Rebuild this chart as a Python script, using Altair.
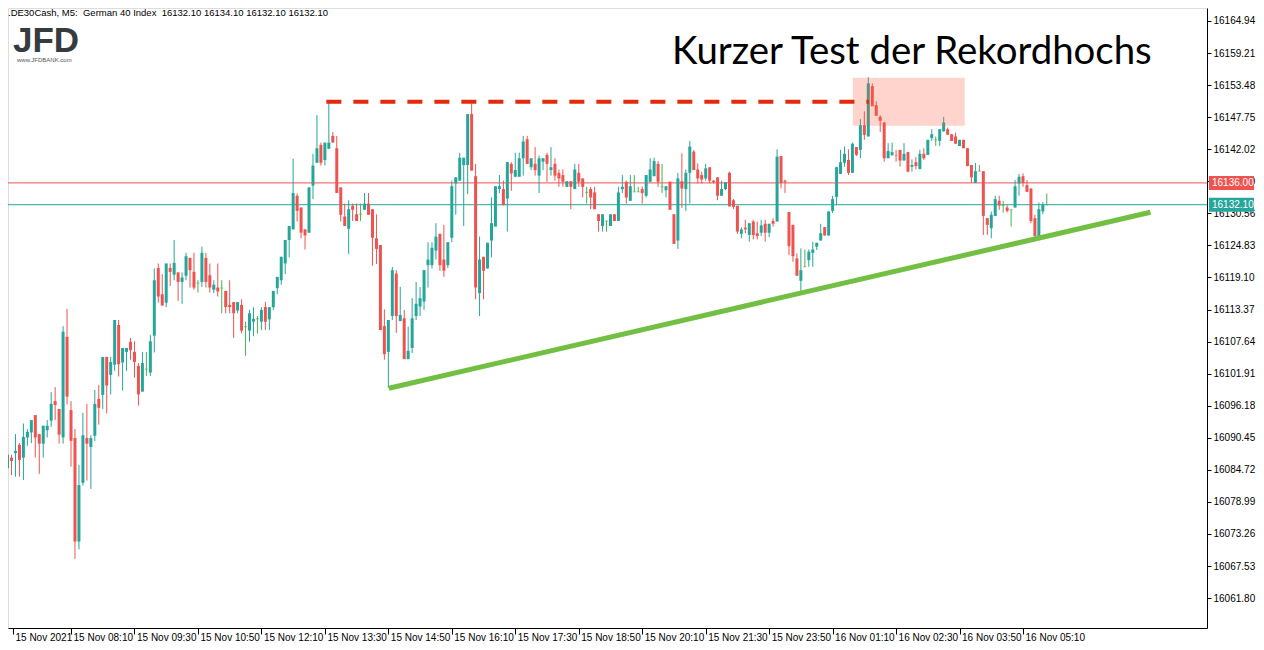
import altair as alt
import pandas as pd

# ---------------- data ----------------
opens = [16085.0, 16086.9, 16087.7, 16089.2, 16086.9, 16090.5, 16091.4, 16094.5, 16091.1, 16089.4,
         16091.8, 16093.5, 16097.0, 16095.6, 16090.5, 16108.5, 16095.4, 16090.4, 16071.9, 16082.4,
         16090.4, 16088.8, 16090.8, 16097.4, 16098.1, 16104.9, 16101.7, 16103.5, 16110.6, 16103.9,
         16105.8, 16107.6, 16105.8, 16103.3, 16098.7, 16102.7, 16102.1, 16108.7, 16120.8, 16116.1,
         16114.6, 16120.8, 16119.6, 16120.0, 16118.3, 16119.4, 16122.6, 16120.1, 16118.1, 16118.3,
         16122.6, 16119.5, 16116.9, 16117.3, 16117.2, 16116.7, 16114.2, 16114.7, 16113.2, 16114.2,
         16110.3, 16109.6, 16111.2, 16111.7, 16111.2, 16113.8, 16111.6, 16113.8, 16117.2, 16118.6,
         16121.6, 16125.8, 16127.7, 16133.7, 16131.6, 16127.7, 16127.1, 16135.5, 16139.6, 16142.8,
         16140.1, 16142.1, 16144.4, 16142.2, 16135.2, 16130.0, 16127.8, 16131.9, 16130.4, 16130.4,
         16131.2, 16132.3, 16131.3, 16126.1, 16124.9, 16110.4, 16105.8, 16112.2, 16119.8, 16111.3,
         16111.8, 16104.5, 16106.5, 16112.2, 16113.9, 16114.8, 16121.3, 16121.3, 16123.9, 16126.9,
         16122.3, 16121.3, 16126.2, 16135.9, 16136.4, 16139.2, 16139.2, 16148.3, 16137.2, 16116.3,
         16122.8, 16120.7, 16125.7, 16128.2, 16134.9, 16134.9, 16133.2, 16139.4, 16137.1, 16137.1,
         16140.4, 16143.8, 16138.8, 16139.4, 16137.3, 16139.8, 16141.0, 16138.3, 16139.4, 16137.8,
         16137.4, 16135.3, 16136.3, 16134.9, 16137.8, 16136.8, 16134.3, 16134.9, 16134.3, 16130.4,
         16128.3, 16129.2, 16128.3, 16130.4, 16129.2, 16134.9, 16136.2, 16132.8, 16134.4, 16134.4,
         16134.9, 16133.7, 16136.2, 16137.2, 16139.4, 16135.3, 16134.7, 16136.2, 16130.4, 16125.7,
         16136.3, 16134.9, 16137.8, 16141.6, 16138.4, 16137.4, 16136.8, 16138.8, 16136.4, 16137.0,
         16133.7, 16134.9, 16137.8, 16132.9, 16131.9, 16126.9, 16128.0, 16126.7, 16129.1, 16127.0,
         16127.1, 16128.7, 16127.1, 16129.2, 16129.1, 16140.8, 16136.4, 16130.8, 16128.5, 16122.5,
         16118.5, 16121.0, 16122.2, 16123.5, 16124.6, 16125.7, 16128.1, 16126.6, 16131.0, 16133.5,
         16137.6, 16139.6, 16140.1, 16137.8, 16142.4, 16141.9, 16146.3, 16144.3, 16153.3, 16149.9,
         16147.8, 16146.8, 16140.4, 16141.0, 16141.0, 16141.9, 16140.0, 16141.5, 16138.9, 16139.7,
         16138.5, 16141.2, 16141.0, 16144.0, 16143.7, 16143.5, 16145.2, 16145.6, 16144.7, 16144.3,
         16142.6, 16143.7, 16142.2, 16139.2, 16136.0, 16138.1, 16138.1, 16129.7, 16127.9, 16130.1,
         16132.8, 16132.0, 16131.6, 16131.2, 16131.6, 16135.9, 16137.2, 16135.6, 16135.0, 16129.7,
         16126.5, 16130.9, 16132.1]
highs = [16087.7, 16087.4, 16091.1, 16089.5, 16093.0, 16092.0, 16093.6, 16094.5, 16091.1, 16092.6,
         16093.6, 16098.6, 16099.5, 16095.6, 16110.4, 16113.5, 16097.0, 16092.0, 16085.6, 16094.9,
         16096.5, 16090.9, 16099.0, 16099.9, 16104.9, 16104.9, 16104.9, 16111.5, 16111.5, 16106.5,
         16106.5, 16108.3, 16107.7, 16103.8, 16105.8, 16105.8, 16108.8, 16120.7, 16121.6, 16119.7,
         16121.6, 16121.6, 16125.8, 16120.0, 16120.0, 16123.5, 16122.6, 16123.5, 16118.6, 16124.6,
         16123.5, 16121.6, 16118.6, 16121.6, 16118.6, 16116.7, 16118.6, 16114.7, 16114.7, 16115.2,
         16111.2, 16113.3, 16113.8, 16112.2, 16113.8, 16114.7, 16113.8, 16116.7, 16119.2, 16122.8,
         16125.8, 16128.3, 16140.3, 16134.1, 16131.6, 16127.7, 16135.2, 16141.2, 16148.1, 16143.2,
         16143.2, 16150.8, 16145.1, 16144.4, 16135.2, 16132.3, 16132.9, 16132.3, 16132.3, 16132.3,
         16134.2, 16134.2, 16131.3, 16130.4, 16124.9, 16113.4, 16111.5, 16121.0, 16120.4, 16117.4,
         16113.3, 16110.3, 16115.4, 16118.3, 16117.4, 16120.4, 16125.4, 16125.4, 16128.8, 16126.9,
         16128.5, 16125.4, 16136.4, 16137.0, 16141.4, 16140.5, 16148.3, 16150.2, 16139.4, 16126.4,
         16122.8, 16125.3, 16133.4, 16135.4, 16137.4, 16136.4, 16139.7, 16139.7, 16141.4, 16141.4,
         16144.4, 16144.4, 16140.4, 16142.4, 16140.9, 16140.4, 16141.4, 16142.4, 16140.4, 16138.4,
         16138.4, 16136.3, 16136.3, 16139.4, 16139.4, 16136.8, 16135.3, 16135.3, 16135.3, 16130.4,
         16130.4, 16129.2, 16130.4, 16130.4, 16135.3, 16137.4, 16136.4, 16137.4, 16137.4, 16135.3,
         16135.4, 16137.4, 16140.4, 16140.5, 16139.9, 16139.4, 16135.4, 16136.3, 16130.4, 16137.8,
         16141.3, 16138.4, 16143.5, 16141.9, 16139.5, 16138.0, 16139.4, 16138.8, 16136.5, 16137.0,
         16136.4, 16136.1, 16138.0, 16133.1, 16131.9, 16128.1, 16129.4, 16128.8, 16129.4, 16129.1,
         16129.4, 16129.4, 16128.7, 16129.7, 16142.0, 16140.8, 16136.6, 16130.8, 16128.5, 16123.4,
         16124.3, 16124.1, 16124.1, 16125.5, 16125.3, 16128.7, 16128.1, 16130.9, 16133.7, 16138.9,
         16141.9, 16142.5, 16142.0, 16143.2, 16142.4, 16147.4, 16148.8, 16154.9, 16153.8, 16150.6,
         16148.1, 16146.8, 16143.1, 16143.2, 16141.9, 16141.9, 16143.1, 16141.5, 16140.2, 16140.6,
         16141.9, 16142.2, 16143.7, 16145.6, 16144.3, 16145.6, 16147.8, 16145.9, 16144.7, 16145.0,
         16143.7, 16143.7, 16142.2, 16139.2, 16139.6, 16139.2, 16138.1, 16129.7, 16130.9, 16133.7,
         16133.7, 16132.8, 16132.0, 16131.2, 16136.5, 16137.6, 16137.7, 16136.5, 16135.0, 16130.3,
         16132.5, 16132.6, 16134.1]
lows = [16084.7, 16083.8, 16083.5, 16083.5, 16082.9, 16089.0, 16089.5, 16086.9, 16084.0, 16086.9,
        16090.5, 16092.4, 16093.6, 16089.4, 16089.4, 16096.4, 16085.3, 16068.8, 16070.5, 16081.9,
        16082.8, 16081.3, 16089.9, 16092.8, 16095.6, 16094.8, 16098.2, 16102.4, 16101.4, 16098.9,
        16102.4, 16104.4, 16101.2, 16096.2, 16098.7, 16101.5, 16101.5, 16105.7, 16114.6, 16114.0,
        16113.8, 16117.6, 16118.6, 16114.9, 16114.4, 16118.6, 16117.3, 16116.9, 16116.4, 16117.4,
        16117.3, 16116.4, 16116.3, 16115.7, 16112.7, 16112.7, 16112.7, 16108.3, 16112.7, 16109.1,
        16105.1, 16107.6, 16108.6, 16109.1, 16109.7, 16109.7, 16109.7, 16113.3, 16116.1, 16117.8,
        16119.7, 16122.7, 16127.7, 16129.1, 16126.1, 16124.1, 16127.1, 16133.1, 16139.6, 16139.1,
        16139.1, 16142.1, 16143.2, 16134.2, 16129.1, 16128.3, 16123.3, 16129.2, 16129.2, 16129.2,
        16131.2, 16130.3, 16121.2, 16121.5, 16109.7, 16104.4, 16099.4, 16111.5, 16109.2, 16111.3,
        16104.5, 16104.5, 16105.6, 16111.5, 16112.2, 16113.3, 16117.3, 16120.7, 16122.3, 16120.3,
        16119.2, 16120.8, 16125.4, 16130.3, 16136.4, 16128.3, 16134.0, 16138.2, 16115.2, 16112.2,
        16115.2, 16120.7, 16122.7, 16128.2, 16134.2, 16132.0, 16127.3, 16134.6, 16137.1, 16137.1,
        16137.3, 16139.4, 16138.3, 16137.3, 16134.2, 16138.3, 16136.2, 16137.3, 16136.4, 16135.3,
        16135.3, 16135.3, 16131.3, 16134.9, 16135.3, 16133.4, 16132.3, 16131.3, 16131.3, 16127.3,
        16127.3, 16127.3, 16128.3, 16129.2, 16129.2, 16134.2, 16132.3, 16132.8, 16134.4, 16134.4,
        16132.3, 16133.4, 16136.2, 16137.2, 16135.3, 16134.2, 16133.4, 16131.2, 16125.1, 16124.2,
        16131.5, 16131.0, 16132.3, 16138.3, 16135.9, 16135.9, 16136.4, 16135.9, 16135.9, 16132.9,
        16133.7, 16134.7, 16131.8, 16131.3, 16126.9, 16126.1, 16127.0, 16125.5, 16125.9, 16125.9,
        16126.5, 16125.5, 16126.3, 16128.2, 16129.1, 16135.0, 16134.2, 16123.1, 16121.9, 16119.4,
        16116.6, 16121.0, 16121.0, 16121.0, 16124.0, 16125.7, 16126.6, 16126.6, 16130.6, 16132.0,
        16137.6, 16138.9, 16137.4, 16137.8, 16140.8, 16140.4, 16143.7, 16144.3, 16149.7, 16148.0,
        16145.1, 16139.8, 16140.4, 16140.8, 16139.8, 16138.9, 16140.0, 16138.0, 16138.0, 16138.4,
        16138.4, 16140.1, 16141.0, 16143.5, 16142.6, 16142.6, 16145.2, 16144.6, 16143.5, 16143.0,
        16142.6, 16142.2, 16139.0, 16136.0, 16136.0, 16138.1, 16126.7, 16126.7, 16126.1, 16130.1,
        16131.2, 16130.7, 16130.7, 16128.2, 16131.6, 16133.7, 16135.3, 16134.4, 16128.8, 16126.1,
        16126.1, 16130.4, 16132.1]
closes = [16087.4, 16086.3, 16088.1, 16086.5, 16090.6, 16091.5, 16093.6, 16090.5, 16089.4, 16092.6,
          16092.6, 16096.5, 16096.3, 16091.0, 16109.4, 16097.8, 16089.9, 16071.9, 16082.0, 16090.9,
          16089.4, 16090.4, 16096.5, 16095.8, 16104.9, 16099.8, 16104.0, 16111.5, 16103.6, 16106.5,
          16106.5, 16106.1, 16104.0, 16098.2, 16103.8, 16102.7, 16107.7, 16118.6, 16115.7, 16114.1,
          16121.6, 16120.1, 16121.7, 16118.3, 16119.1, 16122.9, 16120.4, 16117.3, 16118.1, 16123.5,
          16118.3, 16117.3, 16117.8, 16116.6, 16117.2, 16113.8, 16113.8, 16112.7, 16114.7, 16109.6,
          16110.3, 16112.7, 16111.7, 16111.7, 16113.3, 16111.2, 16113.8, 16116.7, 16119.2, 16122.8,
          16125.8, 16128.3, 16134.2, 16131.0, 16127.1, 16126.6, 16135.2, 16139.1, 16142.2, 16139.6,
          16143.2, 16143.2, 16143.2, 16134.2, 16130.3, 16128.3, 16131.3, 16131.2, 16129.2, 16130.4,
          16132.3, 16130.3, 16126.2, 16124.2, 16109.7, 16105.4, 16111.5, 16120.4, 16112.2, 16112.4,
          16104.5, 16106.0, 16111.8, 16114.4, 16115.4, 16120.4, 16122.3, 16124.4, 16126.4, 16121.3,
          16120.3, 16125.4, 16135.4, 16137.0, 16140.5, 16140.5, 16148.3, 16138.2, 16117.3, 16122.3,
          16120.3, 16125.3, 16128.8, 16135.4, 16135.4, 16132.0, 16139.7, 16137.7, 16138.3, 16140.4,
          16143.4, 16139.4, 16140.4, 16138.3, 16140.4, 16140.4, 16139.4, 16138.8, 16137.3, 16136.8,
          16136.2, 16136.3, 16135.3, 16138.4, 16136.2, 16135.3, 16134.3, 16133.4, 16131.3, 16129.2,
          16130.4, 16129.2, 16130.4, 16129.2, 16134.3, 16135.3, 16133.4, 16135.4, 16134.4, 16134.4,
          16134.2, 16137.4, 16138.4, 16139.9, 16136.2, 16135.3, 16135.4, 16131.2, 16125.1, 16136.8,
          16135.0, 16137.8, 16142.5, 16138.3, 16136.8, 16136.6, 16138.6, 16136.4, 16136.1, 16133.7,
          16134.9, 16136.1, 16131.8, 16131.7, 16127.3, 16127.7, 16127.7, 16128.8, 16126.7, 16126.5,
          16128.4, 16127.1, 16128.7, 16128.7, 16140.7, 16136.0, 16136.2, 16124.7, 16122.9, 16119.4,
          16120.4, 16121.0, 16123.7, 16124.1, 16125.3, 16127.0, 16126.6, 16130.9, 16133.1, 16138.8,
          16139.7, 16141.2, 16137.8, 16143.0, 16141.0, 16146.3, 16144.6, 16153.8, 16149.7, 16148.0,
          16147.1, 16140.4, 16141.7, 16141.5, 16140.9, 16140.0, 16141.2, 16138.0, 16139.2, 16139.0,
          16141.2, 16140.4, 16143.7, 16144.7, 16143.7, 16145.6, 16146.8, 16144.6, 16143.5, 16143.0,
          16143.7, 16142.2, 16139.0, 16137.0, 16138.1, 16138.1, 16130.1, 16128.5, 16130.3, 16133.1,
          16132.0, 16132.0, 16131.0, 16131.2, 16135.4, 16137.1, 16136.0, 16134.4, 16129.2, 16126.5,
          16131.3, 16132.1, 16132.1]

x_tick_idx = [1.375, 16, 32, 48, 64, 80, 96, 112, 128, 144, 160, 176, 192, 208, 224, 240, 256]
x_tick_labels = ["15 Nov 2021", "15 Nov 08:10", "15 Nov 09:30", "15 Nov 10:50", "15 Nov 12:10",
                 "15 Nov 13:30", "15 Nov 14:50", "15 Nov 16:10", "15 Nov 17:30", "15 Nov 18:50",
                 "15 Nov 20:10", "15 Nov 21:30", "15 Nov 23:50", "16 Nov 01:10", "16 Nov 02:30",
                 "16 Nov 03:50", "16 Nov 05:10"]
y_ticks = [16164.94, 16159.21, 16153.48, 16147.75, 16142.02, 16136.29, 16130.56, 16124.83,
           16119.10, 16113.37, 16107.64, 16101.91, 16096.18, 16090.45, 16084.72, 16078.99,
           16073.26, 16067.53, 16061.80]

level_prices = [16136.00, closes[-1]]
resistance_idx = [80.375, 217.125]
resistance_price = [16150.5, 16150.5]
trend_idx = [96.125, 288.125]
trend_price = [16099.3, 16130.75]
zone_idx = [213.1, 241.3]
zone_price = [16154.8, 16146.2]

title_text = "Kurzer Test der Rekordhochs"
header_text = ".DE30Cash, M5:\u00a0\u00a0German 40 Index\u00a0\u00a0" + " ".join(
    f"{v:.2f}" for v in (opens[-1], highs[-1], lows[-1], closes[-1]))

# ---------------- styling ----------------
UP, DOWN, FLAT = "#26a69a", "#ef5350", "#4caf50"
FONT = "Liberation Sans"

n = len(opens)
df = pd.DataFrame({"i": list(range(n)), "o": opens, "h": highs, "l": lows, "c": closes})
df["top"] = df[["o", "c"]].max(axis=1)
df["bot"] = df[["o", "c"]].min(axis=1)
df["col"] = [UP if c > o else (DOWN if c < o else FLAT) for o, c in zip(opens, closes)]
df_body = df[df["o"] != df["c"]]
df_flat = df[df["o"] == df["c"]]

label_expr = "[" + ",".join(f"'{s}'" for s in x_tick_labels) + "][datum.value < 8 ? 0 : round(datum.value / 16)]"

xscale = alt.Scale(domain=[1.375, 301.125], nice=False, zero=False)
yscale = alt.Scale(domain=[16056.45, 16167.26], nice=False, zero=False)
xaxis = alt.Axis(values=x_tick_idx, labelExpr=label_expr, title=None, grid=False, tickSize=6,
                 labelAlign="left", labelBaseline="alphabetic", labelPadding=6, labelOffset=2,
                 labelOverlap=False, labelBound=False, labelFlush=False,
                 labelFont=FONT, labelFontSize=10, labelColor="black",
                 tickColor="black", domainColor="black")
yaxis = alt.Axis(orient="right", values=y_ticks, format=".2f", title=None, grid=False, tickSize=4,
                 labelPadding=2, labelFont=FONT, labelFontSize=10, labelColor="black",
                 tickColor="black", domainColor="black", labelOverlap=False, labelBound=False)

X = alt.X("i:Q", scale=xscale, axis=xaxis)

def Yf(field):
    return alt.Y(f"{field}:Q", scale=yscale, axis=yaxis)

lv_df = pd.DataFrame({"p": level_prices, "col": [DOWN, UP]})
levels = alt.Chart(lv_df).mark_rule(strokeWidth=1).encode(
    y=Yf("p"), color=alt.Color("col:N", scale=None))

wicks = alt.Chart(df).mark_rule(strokeWidth=1).encode(
    x=X, y=Yf("l"), y2="h:Q", color=alt.Color("col:N", scale=None))
bodies = alt.Chart(df_body).mark_bar(size=3).encode(
    x=X, y=Yf("bot"), y2="top:Q", color=alt.Color("col:N", scale=None))
dojis = alt.Chart(df_flat).mark_tick(orient="horizontal", size=3, thickness=1).encode(
    x=X, y=Yf("o"), color=alt.Color("col:N", scale=None))

zone_df = pd.DataFrame({"i": [zone_idx[0]], "i2": [zone_idx[1]], "p": [zone_price[0]], "p2": [zone_price[1]]})
zone = alt.Chart(zone_df).mark_rect(color="#ff5533", opacity=0.25).encode(
    x=X, x2="i2:Q", y=Yf("p"), y2="p2:Q")

res_df = pd.DataFrame({"i": resistance_idx, "p": resistance_price})
res = alt.Chart(res_df).mark_line(color="#e32a0a", strokeWidth=4, strokeDash=[15, 12], strokeCap="butt").encode(
    x=X, y=Yf("p"))
tr_df = pd.DataFrame({"i": trend_idx, "p": trend_price})
trend = alt.Chart(tr_df).mark_line(color="#72bf44", strokeWidth=5, strokeCap="butt").encode(
    x=X, y=Yf("p"))

def label(txt, x, y, **kw):
    return alt.Chart(pd.DataFrame({"t": [txt]})).mark_text(**kw).encode(
        x=alt.value(x), y=alt.value(y), text="t:N")

header = label(header_text, 0, 0, align="left", baseline="top", font=FONT, fontSize=9.5, color="black")
logo = label("JFD", 5, 44, align="left", baseline="alphabetic", font=FONT, fontSize=35,
             fontWeight="bold", color="#363b40")
logo_url = label("www.JFDBANK.com", 9, 54, align="left", baseline="alphabetic", font=FONT,
                 fontSize=6, color="#555555")
title = label(title_text, 664, 56, align="left", baseline="alphabetic", font="Lato", fontSize=38.4,
              color="black")

box_df = pd.DataFrame({"p": level_prices, "col": [DOWN, UP],
                       "t": [f"{v:.2f}" for v in level_prices]})
boxes = alt.Chart(box_df).transform_calculate(
    top="datum.p + 1.25", bot="datum.p - 1.25").mark_rect().encode(
    x=alt.value(1201), x2=alt.value(1246), y=Yf("top"), y2="bot:Q", color=alt.Color("col:N", scale=None))
box_txt = alt.Chart(box_df).mark_text(align="left", baseline="middle", font=FONT, fontSize=10,
                                      color="white").encode(
    x=alt.value(1204), y=Yf("p"), text="t:N")

chart = alt.layer(levels, wicks, bodies, dojis, zone, res, trend, header, logo, logo_url, title,
                  boxes, box_txt).properties(
    width=1199, height=620,
    padding={"left": 0, "top": 0, "right": 49, "bottom": 16},
    autosize=alt.AutoSizeParams(type="none"),
).configure_view(stroke="black", strokeWidth=1).configure(background="white")

chart.save("out.html", embed_options={"renderer": "svg", "actions": False})
